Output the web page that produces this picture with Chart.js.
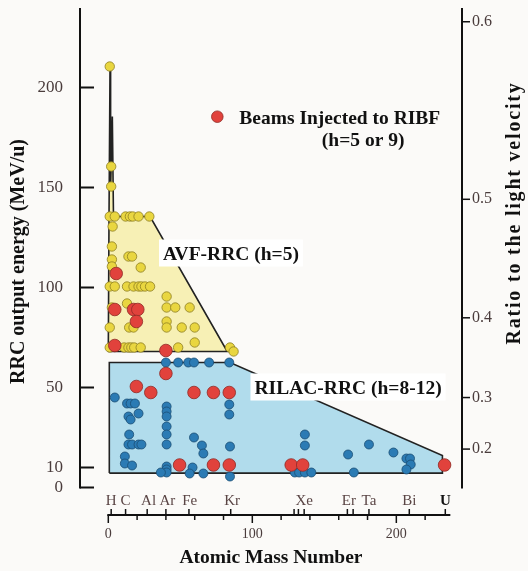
<!DOCTYPE html>
<html>
<head>
<meta charset="utf-8">
<script src="https://cdn.jsdelivr.net/npm/chart.js@4.4.1/dist/chart.umd.min.js"></script>
<style>
  html, body { margin: 0; padding: 0; background: #fbfaf8; }
  canvas { display: block; }
</style>
</head>
<body>
<canvas id="rrcChart" width="528" height="571"></canvas>
<script>
const SERIF = '"Liberation Serif", "Times New Roman", serif';
const TICK_COLOR = '#4a3c3c';

// Axis ticks
const yTickValues = [0, 10, 50, 100, 150, 200];
const betaTickLabels = ['0.2', '0.3', '0.4', '0.5', '0.6'];
const xTickValues = [0, 20, 40, 60, 80, 100, 120, 140, 160, 180, 200, 220];
const xLabelValues = [0, 100, 200];
const elementNames = ['H', 'C', 'Al', 'Ar', 'Fe', 'Kr', 'Xe', 'Er', 'Ta', 'Bi', 'U'];
const elementLabelMass = [2, 12, 28, 41, 56.5, 86, 136, 167, 181, 209, 234];
const isotopeTickMass = [2, 12, 27, 40, 56, 85, 129, 132, 136, 166, 170, 181, 209, 234];

// Acceleration regions (mass number, MeV/u)
const avfRegionMass   = [0, 0.5, 1.2, 1.6, 2.8, 3.6, 29, 82.6, 0];
const avfRegionEnergy = [68, 135.5, 210.5, 150, 185.5, 135.5, 135.5, 68, 68];
const rilacRegionMass   = [0.7, 0.7, 84.5, 232, 232, 0.7];
const rilacRegionEnergy = [7.2, 62.5, 62.5, 16, 7.2, 7.2];

// AVF-RRC beams
const avfMass = [1, 2, 2,
  1, 4.5, 12, 15, 17, 21, 28.5,
  3, 2.5, 2.5, 2.5, 14, 16.5, 22.5,
  1, 4.5, 13, 17.5, 21, 23, 25.5, 29,
  40.5, 13, 2.5, 40.5, 46.5, 56.5, 40.5,
  1, 14.5, 17.5, 40.5, 51, 60, 60,
  1, 11, 14, 16, 18, 22.5, 48.5, 84.5, 87];
const avfEnergy = [210.5, 160.5, 150.5,
  135.5, 135.5, 135.5, 135.5, 135.5, 135.5, 135.5,
  130.5, 120.5, 114, 110.5, 115.5, 115.5, 110,
  100.5, 100.5, 100.5, 100.5, 100.5, 100.5, 100.5, 100.5,
  95.5, 92, 90, 90, 90, 90, 83,
  80, 80, 80, 80, 80, 80, 72.5,
  70, 70, 70, 70, 70, 70, 70, 70, 68];

// RILAC-RRC beams
const rilacMass = [40, 48.5, 55.5, 59.5, 70, 84,
  4.5, 13, 15.5, 18.5, 21, 14, 15.5,
  40.5, 40.5, 40.5, 40.5, 40.5, 40.5, 84, 84,
  14.5, 14, 16.5, 21, 23, 59.5, 65, 66, 84.5,
  11.5, 11.5, 16.5, 40.5, 40.5, 40.5, 36.5, 58.5, 56.5, 66, 84.5,
  136.5, 136.5, 129.5, 132.5, 136.5, 141, 166.5, 170.5, 181, 198,
  207, 209.5, 210, 207];
const rilacEnergy = [62.5, 62.5, 62.5, 62.5, 62.5, 62.5,
  45, 42, 42, 42, 37, 35.5, 34,
  40.5, 38, 35.5, 30.5, 26.5, 21.5, 41.5, 36.5,
  26.5, 21.5, 21.5, 21.5, 21.5, 25, 21, 17, 20.5,
  15.5, 12, 11, 10.5, 9, 7.5, 7.5, 10, 7, 7, 5.5,
  26.5, 21, 7.5, 7.5, 7.5, 7.5, 16.5, 7.5, 21.5, 17.5,
  14.5, 14.5, 11.5, 9];

// Beams injected to RIBF
const ribfMass = [5.5, 4.5, 17.5, 20.5, 19.5, 4.5, 40, 40, 19.5, 29.5,
  59.5, 73, 84, 49.5, 73, 84, 127, 135, 233.5];
const ribfEnergy = [107, 89, 89, 89, 83, 71, 68.5, 57, 50.5, 47.5,
  47.5, 47.5, 47.5, 11.25, 11.25, 11.25, 11.25, 11.25, 11.25];

const pts = (xs, ys) => xs.map((x, i) => ({ x: x, y: ys[i] }));

// kinetic energy per nucleon (MeV/u) for a given v/c
function energyOfBeta(b) {
  return 931.494 * (1 / Math.sqrt(1 - b * b) - 1);
}

function line(ctx, x1, y1, x2, y2) {
  ctx.beginPath();
  ctx.moveTo(x1, y1);
  ctx.lineTo(x2, y2);
  ctx.stroke();
}

const decorations = {
  id: 'decorations',
  beforeDraw(chart) {
    const ctx = chart.ctx;
    ctx.save();
    ctx.fillStyle = '#fbfaf8';
    ctx.fillRect(0, 0, chart.width, chart.height);
    ctx.restore();
  },
  beforeDatasetsDraw(chart) {
    const { ctx, chartArea } = chart;
    const { x, y, y2 } = chart.scales;
    const y0 = y.getPixelForValue(0);
    ctx.save();
    ctx.strokeStyle = '#111';
    ctx.lineWidth = 2;

    // left axis, ticks pointing inward
    line(ctx, chartArea.left, chartArea.top, chartArea.left, y0 + 1);
    yTickValues.forEach(v => {
      const py = y.getPixelForValue(v);
      line(ctx, chartArea.left, py, chartArea.left + 14, py);
    });

    // right axis (v/c)
    line(ctx, chartArea.right, chartArea.top, chartArea.right, y0 + 1);
    ctx.lineWidth = 1.5;
    betaTickLabels.forEach(b => {
      const py = y2.getPixelForValue(energyOfBeta(parseFloat(b)));
      line(ctx, chartArea.right, py, chartArea.right + 8, py);
    });

    // mass number axis
    const xb = chartArea.bottom;
    ctx.lineWidth = 2;
    line(ctx, x.getPixelForValue(0) - 1, xb, x.getPixelForValue(237.5), xb);
    ctx.lineWidth = 1.5;
    xTickValues.forEach(v => {
      const px = x.getPixelForValue(v);
      line(ctx, px, xb, px, xb + (xLabelValues.includes(v) ? 8 : 5));
    });
    isotopeTickMass.forEach(m => {
      const px = x.getPixelForValue(m);
      line(ctx, px, xb, px, xb - 6);
    });

    // element names above the axis
    ctx.textAlign = 'center';
    ctx.textBaseline = 'alphabetic';
    elementNames.forEach((name, i) => {
      const bold = name === 'U';
      ctx.font = (bold ? 'bold ' : '') + '15px ' + SERIF;
      ctx.fillStyle = bold ? '#111' : '#5a4545';
      ctx.fillText(name, x.getPixelForValue(elementLabelMass[i]), 505);
    });
    ctx.restore();
  },
  afterDatasetDraw(chart, args) {
    // region labels sit on white boxes above the shaded regions
    if (args.index !== 3) return;
    const ctx = chart.ctx;
    const { x, y } = chart.scales;
    const labels = [
      { text: 'AVF-RRC (h=5)', mass: 38, energy: 114 },
      { text: 'RILAC-RRC (h=8-12)', mass: 101.5, energy: 47 }
    ];
    ctx.save();
    ctx.font = 'bold 19.5px ' + SERIF;
    ctx.textBaseline = 'alphabetic';
    labels.forEach(l => {
      const px = x.getPixelForValue(l.mass);
      const py = y.getPixelForValue(l.energy);
      const w = ctx.measureText(l.text).width;
      ctx.fillStyle = '#ffffff';
      ctx.fillRect(px - 4, py - 20, w + 8, 27);
      ctx.fillStyle = '#111';
      ctx.fillText(l.text, px, py);
    });
    ctx.restore();
  },
  afterDatasetsDraw(chart) {
    const ctx = chart.ctx;
    const { x, y } = chart.scales;
    const red = chart.data.datasets[0];
    ctx.save();
    // legend
    const cx = x.getPixelForValue(75.7);
    const cy = y.getPixelForValue(185.4);
    ctx.beginPath();
    ctx.arc(cx, cy, 5.8, 0, Math.PI * 2);
    ctx.fillStyle = red.backgroundColor;
    ctx.fill();
    ctx.lineWidth = 0.8;
    ctx.strokeStyle = red.borderColor;
    ctx.stroke();
    ctx.fillStyle = '#111';
    ctx.font = 'bold 19.5px ' + SERIF;
    ctx.textBaseline = 'alphabetic';
    ctx.fillText(red.label, cx + 22, cy + 7.5);
    ctx.fillText('(h=5 or 9)', cx + 104.5, cy + 29.5);

    // right axis title, reading upward
    ctx.translate(515, 213);
    ctx.rotate(-Math.PI / 2);
    ctx.font = 'bold 20px ' + SERIF;
    ctx.letterSpacing = '1.8px';
    ctx.textAlign = 'center';
    ctx.textBaseline = 'middle';
    ctx.fillText('Ratio to the light velocity', 0, 0);
    ctx.restore();
  }
};

const ctx = document.getElementById('rrcChart').getContext('2d');
const chart = new Chart(ctx, {
  type: 'scatter',
  data: {
    datasets: [
      {
        label: 'Beams Injected to RIBF',
        data: pts(ribfMass, ribfEnergy),
        backgroundColor: '#e1423c',
        borderColor: '#8f2b26',
        borderWidth: 0.8,
        pointRadius: 6.3,
        order: 0
      },
      {
        label: 'RILAC-RRC beams',
        data: pts(rilacMass, rilacEnergy),
        backgroundColor: '#2b7bb4',
        borderColor: '#1a4c72',
        borderWidth: 0.8,
        pointRadius: 4.5,
        order: 1
      },
      {
        label: 'AVF-RRC beams',
        data: pts(avfMass, avfEnergy),
        backgroundColor: '#e9d640',
        borderColor: '#8d7e22',
        borderWidth: 0.8,
        pointRadius: 4.7,
        order: 2
      },
      {
        type: 'line',
        label: 'AVF-RRC (h=5)',
        data: pts(avfRegionMass, avfRegionEnergy),
        showLine: true,
        fill: 'shape',
        tension: 0,
        backgroundColor: '#f7f0b5',
        borderColor: '#222',
        borderWidth: 1.6,
        pointRadius: 0,
        order: 3
      },
      {
        type: 'line',
        label: 'RILAC-RRC (h=8-12)',
        data: pts(rilacRegionMass, rilacRegionEnergy),
        showLine: true,
        fill: 'shape',
        tension: 0,
        backgroundColor: '#b1dcec',
        borderColor: '#222',
        borderWidth: 1.6,
        pointRadius: 0,
        order: 4
      }
    ]
  },
  options: {
    responsive: false,
    devicePixelRatio: 1,
    animation: false,
    events: [],
    layout: { padding: { top: 8 } },
    plugins: { legend: { display: false }, tooltip: { enabled: false } },
    scales: {
      x: {
        type: 'linear',
        position: 'bottom',
        min: -19.65,
        max: 245.6,
        afterBuildTicks: s => { s.ticks = xTickValues.map(v => ({ value: v })); },
        afterFit: s => { s.height = 56; s.paddingLeft = 0; s.paddingRight = 0; },
        grid: { display: false, drawTicks: false },
        border: { display: false },
        ticks: {
          autoSkip: false,
          maxRotation: 0,
          padding: 11,
          color: TICK_COLOR,
          font: { family: SERIF, size: 14 },
          callback: v => xLabelValues.includes(v) ? String(v) : ''
        },
        title: {
          display: true,
          text: 'Atomic Mass Number',
          color: '#111',
          font: { family: SERIF, size: 19.5, weight: 'bold' },
          padding: { top: 0, bottom: 1 }
        }
      },
      y: {
        type: 'linear',
        position: 'left',
        min: -13.75,
        max: 239.75,
        afterBuildTicks: s => { s.ticks = yTickValues.map(v => ({ value: v })); },
        afterFit: s => { s.width = 80; s.paddingTop = 0; s.paddingBottom = 0; },
        grid: { display: false, drawTicks: false },
        border: { display: false },
        ticks: {
          padding: 17,
          color: TICK_COLOR,
          font: { family: SERIF, size: 17 }
        },
        title: {
          display: true,
          text: 'RRC output energy (MeV/u)',
          color: '#111',
          font: { family: SERIF, size: 20, weight: 'bold' },
          padding: { top: 7, bottom: 0 }
        }
      },
      y2: {
        type: 'linear',
        position: 'right',
        min: -13.75,
        max: 239.75,
        afterBuildTicks: s => {
          s.ticks = betaTickLabels.map(b => ({ value: energyOfBeta(parseFloat(b)) }));
        },
        afterFit: s => { s.width = 66; s.paddingTop = 0; s.paddingBottom = 0; },
        grid: { display: false, drawTicks: false },
        border: { display: false },
        ticks: {
          padding: 10,
          color: TICK_COLOR,
          font: { family: SERIF, size: 16 },
          callback: (v, i) => betaTickLabels[i]
        }
      }
    }
  },
  plugins: [decorations]
});
</script>
</body>
</html>
